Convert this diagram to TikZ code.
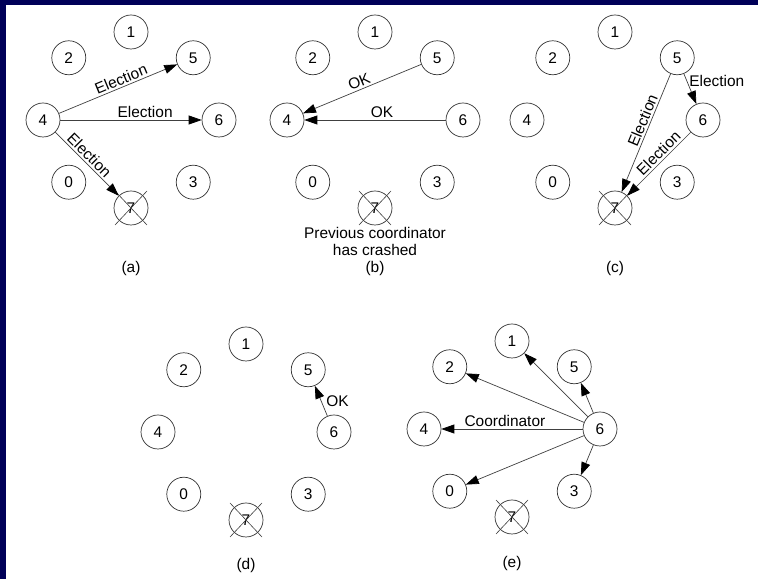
\documentclass[tikz,border=0pt]{standalone}
\usepackage{fontspec}
\setmainfont{Liberation Sans}
\usetikzlibrary{arrows.meta}
\definecolor{slideblue}{RGB}{0,0,88}

\begin{document}
\begin{tikzpicture}[x=1bp,y=1bp,
  proc/.style={circle,draw=black!80,line width=0.7pt,minimum size=34bp,inner sep=0pt,
    font=\fontsize{15.5}{17}\selectfont},
  msg/.style={draw=black!75,line width=0.7pt,-{Triangle[length=13pt,width=9pt,color=black]}},
  lbl/.style={font=\fontsize{15.5}{17}\selectfont,inner sep=2pt}]
\useasboundingbox (0,0) rectangle (758,579);
\fill[white] (0,0) rectangle (758,579);
\fill[slideblue] (0,0) rectangle (6,579);
\fill[slideblue] (0,574) rectangle (758,579);

\foreach \p/\cx/\cy/\ly in {a/131/459/-149, b/375/459/-149, c/615/459/-149, d/246/147/-134, e/512/150/-135} {
  \begin{scope}[shift={(\cx,\cy)}]
    \foreach \n/\ang in {1/90, 5/45, 6/0, 3/-45, 7/-90, 0/-135, 4/180, 2/135} {
        \node[proc] (\p\n) at (\ang:88) {\n};
    }
    \draw[black!75,line width=0.6pt] (-16,-105) -- (16,-71) (-16,-71) -- (16,-105);
    \node[lbl] (lab\p) at (0,\ly) {(\p)};
  \end{scope}
}
\node[lbl,align=center] (crash) at (375,337.5) {Previous coordinator\\has crashed};

% (a)
\draw[msg] (a4) -- node[lbl,above,sloped,pos=0.55] {Election} (a5);
\draw[msg] (a4) -- node[lbl,above,pos=0.6] {Election} (a6);
\draw[msg] (a4) -- node[lbl,above,sloped,pos=0.45] {Election} (a7);
% (b)
\draw[msg] (b5) -- node[lbl,above,sloped] {OK} (b4);
\draw[msg] (b6) -- node[lbl,above,pos=0.45] {OK} (b4);
% (c)
\draw[msg] (c5) -- node[lbl,right,pos=0.25] {Election} (c6);
\draw[msg] (c5) -- node[lbl,above,sloped,pos=0.42] {Election} (c7);
\draw[msg] (c6) -- node[lbl,above,sloped,pos=0.42] {Election} (c7);
% (d)
\draw[msg] (d6) -- node[lbl,right=3pt] {OK} (d5);
% (e)
\foreach \t in {2,1,5,0,3}
  \draw[msg] (e6) -- (e\t);
\draw[msg] (e6) -- node[lbl,above,pos=0.55] {Coordinator} (e4);

\end{tikzpicture}
\end{document}
